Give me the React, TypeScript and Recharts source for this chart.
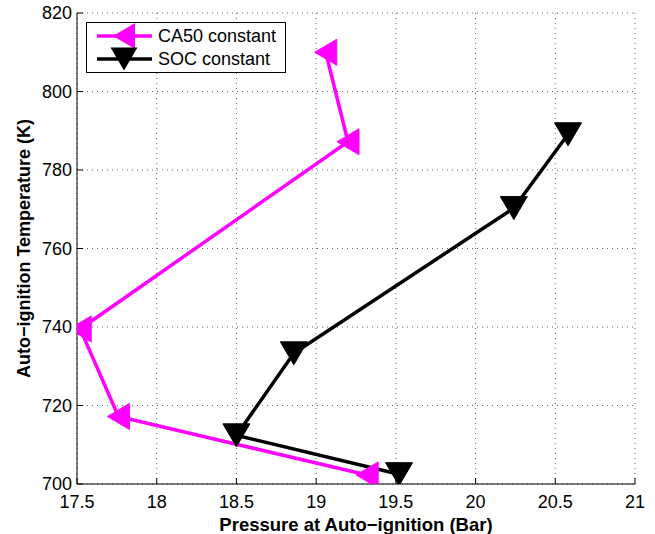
import { LineChart, Line, XAxis, YAxis, CartesianGrid, Legend, Label } from 'recharts'

const ca50Pressure = [19.06, 19.2, 17.52, 17.76, 19.32]
const ca50Temp = [810, 787.2, 739.5, 717.2, 702.3]
const socPressure = [20.58, 20.24, 18.86, 18.5, 19.52]
const socTemp = [789.1, 770.3, 733.3, 712.4, 702.5]
const xTicks = [17.5, 18, 18.5, 19, 19.5, 20, 20.5, 21]
const yTicks = [700, 720, 740, 760, 780, 800, 820]
const seriesNames = ['CA50 constant', 'SOC constant']

const ca50Data = ca50Pressure.map((p, i) => ({ p, t: ca50Temp[i] }))
const socData = socPressure.map((p, i) => ({ p, t: socTemp[i] }))

const FONT = '"Liberation Sans", Arial, Helvetica, sans-serif'
const MAGENTA = '#ff00ff'

function leftTri(cx: number, cy: number) {
  return `${cx - 11},${cy} ${cx + 11},${cy - 13} ${cx + 11},${cy + 13}`
}
function downTri(cx: number, cy: number) {
  return `${cx - 13.5},${cy - 11.5} ${cx + 13.5},${cy - 11.5} ${cx},${cy + 11.5}`
}

const LeftDot = (props: any) => (
  <polygon key={`ca-${props.index}`} points={leftTri(props.cx, props.cy)} fill={MAGENTA} stroke={MAGENTA} />
)
const DownDot = (props: any) => (
  <polygon key={`soc-${props.index}`} points={downTri(props.cx, props.cy)} fill="#000" stroke="#000" />
)

function LegendBox() {
  return (
    <svg width={201} height={52} style={{ display: 'block' }}>
      <rect x={0.5} y={0.5} width={199} height={50} fill="#fff" stroke="#000" strokeWidth={1} />
      <line x1={11} y1={14} x2={66} y2={14} stroke={MAGENTA} strokeWidth={3.5} />
      <polygon points={leftTri(38, 14)} fill={MAGENTA} />
      <text x={72} y={20} fontSize={18} fontFamily={FONT} fill="#000">{seriesNames[0]}</text>
      <line x1={11} y1={37} x2={66} y2={37} stroke="#000" strokeWidth={3.5} />
      <polygon points={downTri(38, 37)} fill="#000" />
      <text x={72} y={43} fontSize={18} fontFamily={FONT} fill="#000">{seriesNames[1]}</text>
    </svg>
  )
}

const YLabel = (props: any) => {
  const vb = props.viewBox
  const cy = vb.y + vb.height / 2
  return (
    <text x={24} y={cy} transform={`rotate(-90 24 ${cy})`} textAnchor="middle" dominantBaseline="central"
      fontSize={18} fontWeight="bold" fontFamily={FONT} fill="#000">
      Auto−ignition Temperature (K)
    </text>
  )
}

const XLabel = (props: any) => {
  const vb = props.viewBox
  const cx = vb.x + vb.width / 2
  return (
    <text x={cx} y={524} textAnchor="middle" dominantBaseline="central"
      fontSize={18.5} fontWeight="bold" fontFamily={FONT} fill="#000">
      Pressure at Auto−ignition (Bar)
    </text>
  )
}

export default function App() {
  const tickStyle = { fill: '#000', fontSize: 18, fontFamily: FONT }
  return (
    <div style={{ position: 'absolute', left: 0, top: 0, width: 655, height: 534, background: '#fff' }}>
      <LineChart width={655} height={534} margin={{ top: 13, right: 20, bottom: 20, left: 17 }}>
        <CartesianGrid stroke="#666" strokeDasharray="1 4" strokeWidth={1} horizontalValues={yTicks} verticalValues={xTicks} />
        <XAxis dataKey="p" type="number" domain={[17.5, 21]} ticks={xTicks} allowDataOverflow
          height={30} tickSize={-6} tickMargin={17} tick={tickStyle} stroke="#000" tickLine={{ stroke: '#000' }}>
          <Label content={XLabel} />
        </XAxis>
        <XAxis xAxisId="top" orientation="top" dataKey="p" type="number" domain={[17.5, 21]} ticks={xTicks}
          height={0} tickSize={-6} tick={false} stroke="#000" />
        <YAxis dataKey="t" type="number" domain={[700, 820]} ticks={yTicks} allowDataOverflow
          width={60} tickSize={-6} tickMargin={11} tick={tickStyle} stroke="#000">
          <Label content={YLabel} />
        </YAxis>
        <YAxis yAxisId="right" orientation="right" type="number" domain={[700, 820]} ticks={yTicks}
          width={0} tickSize={-6} tick={false} stroke="#000" />
        <Line data={ca50Data} dataKey="t" name={seriesNames[0]} type="linear" stroke={MAGENTA} strokeWidth={3.5}
          dot={LeftDot} activeDot={false} isAnimationActive={false} />
        <Line data={socData} dataKey="t" name={seriesNames[1]} type="linear" stroke="#000" strokeWidth={3.5}
          dot={DownDot} activeDot={false} isAnimationActive={false} />
        <Legend layout="vertical" align="center" verticalAlign="middle" content={LegendBox}
          wrapperStyle={{ position: 'absolute', top: 22, left: 86, width: 201 }} />
      </LineChart>
    </div>
  )
}
